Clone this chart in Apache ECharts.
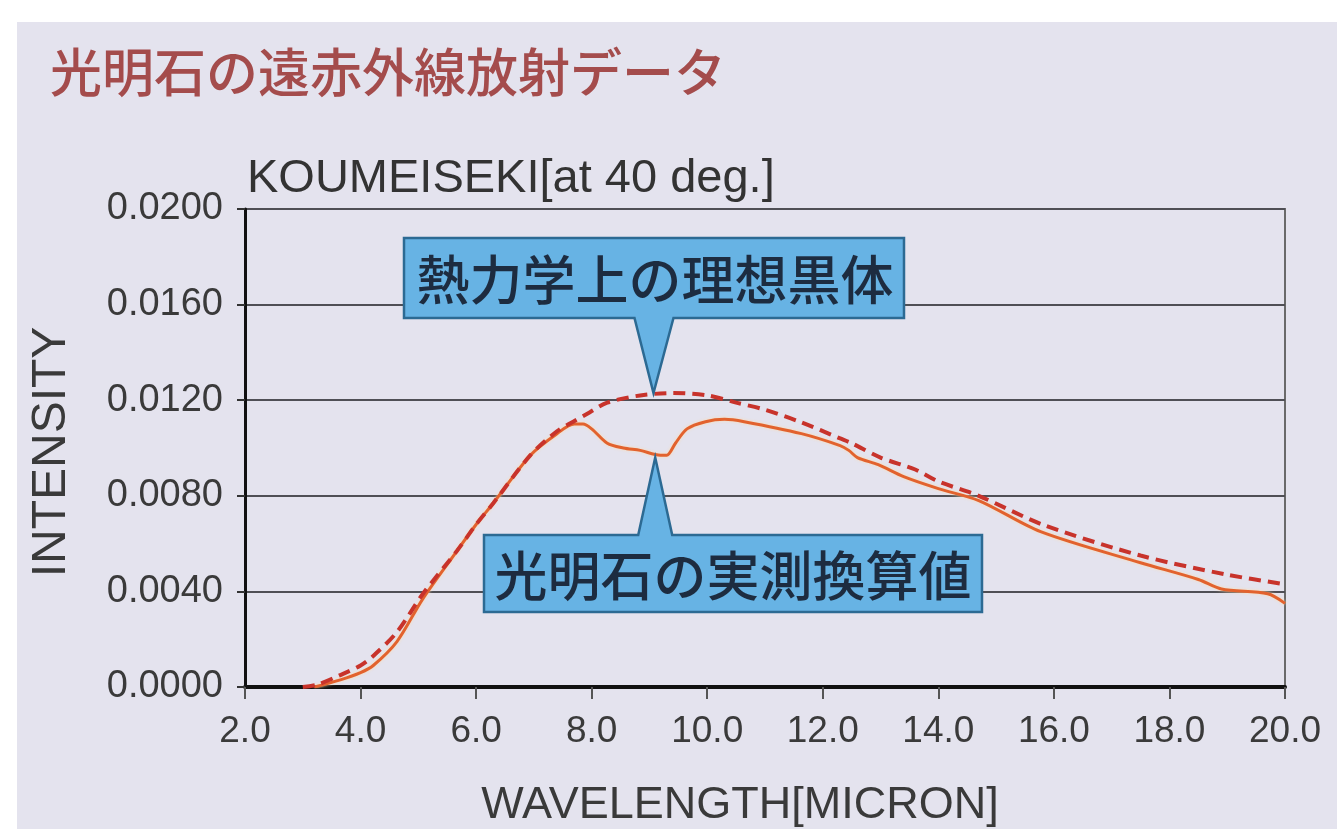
<!DOCTYPE html>
<html>
<head>
<meta charset="utf-8">
<script src="https://cdn.jsdelivr.net/npm/echarts@6/dist/echarts.min.js"></script>
<style>
html,body{margin:0;padding:0;background:#ffffff;}
#c{width:1337px;height:829px;}
</style>
</head>
<body>
<div id="c"></div>
<script>
// ---- data ----
const idealX = [3.0, 3.25, 3.65, 4.0, 4.22, 4.63, 5.08, 5.67, 6.0, 6.3, 6.94, 7.4, 7.68, 7.97, 8.27, 8.84, 9.41, 10.0, 10.5, 11.0, 11.6, 12.3, 12.5, 13.0, 13.6, 14.0, 14.7, 15.8, 17.5, 19.0, 20.0];
const idealY = [0.0000, 0.0001, 0.0005, 0.0009, 0.0013, 0.0023, 0.0039, 0.0057, 0.0068, 0.0077, 0.0097, 0.0107, 0.0111, 0.0115, 0.0119, 0.0122, 0.0123, 0.0122, 0.0119, 0.0116, 0.0111, 0.0104, 0.0102, 0.0096, 0.0091, 0.0086, 0.0080, 0.0068, 0.0055, 0.0047, 0.0043];
const measX = [3.2, 3.65, 4.0, 4.22, 4.63, 5.08, 5.67, 6.0, 6.3, 6.94, 7.4, 7.7, 7.85, 8.0, 8.27, 8.55, 8.84, 9.19, 9.3, 9.45, 9.65, 9.97, 10.3, 10.64, 11.63, 12.3, 12.45, 12.6, 12.96, 13.4, 14.0, 14.7, 15.77, 17.5, 18.5, 18.9, 19.7, 20.0];
const measY = [0.0000, 0.0003, 0.0006, 0.0009, 0.0019, 0.0037, 0.0057, 0.0068, 0.0077, 0.0097, 0.0106, 0.0110, 0.0110, 0.0108, 0.0102, 0.0100, 0.0099, 0.0097, 0.0097, 0.0102, 0.0108, 0.0111, 0.0112, 0.0111, 0.0106, 0.0101, 0.0099, 0.0096, 0.0093, 0.0088, 0.0083, 0.0078, 0.0065, 0.0052, 0.0045, 0.0041, 0.0039, 0.0035];
const xMin = 2.0, xMax = 20.0, xStep = 2.0;
const yMin = 0.0, yMax = 0.02, yStep = 0.004;
const titleText = '光明石の遠赤外線放射データ';
const subTitleText = 'KOUMEISEKI[at 40 deg.]';
const xName = 'WAVELENGTH[MICRON]';
const yName = 'INTENSITY';
const idealLabel = '熱力学上の理想黒体';
const measLabel = '光明石の実測換算値';
const idealPointer = [9.07, 0.0123];
const measPointer = [9.1, 0.0096];

const latin = '"Liberation Sans", Arial, sans-serif';
const cjk = '"Noto Sans CJK JP", sans-serif';
const bg = '#e4e3ee';

const chart = echarts.init(document.getElementById('c'), null, {renderer: 'canvas'});

const zip = (a, b) => a.map((v, i) => [v, b[i]]);

const option = {
  backgroundColor: '#ffffff',
  animation: false,
  grid: {left: 245, right: 52, top: 209, bottom: 142, show: true, borderColor: '#6a6a6a', borderWidth: 2, backgroundColor: 'transparent'},
  xAxis: {
    type: 'value', min: xMin, max: xMax, interval: xStep,
    axisLine: {show: true, onZero: false, lineStyle: {color: '#111', width: 4}},
    axisTick: {show: true, length: 12, lineStyle: {color: '#555', width: 2}},
    axisLabel: {fontSize: 37, fontFamily: latin, color: '#3a3a3a', margin: 26, formatter: v => v.toFixed(1)},
    splitLine: {show: false}
  },
  yAxis: {
    type: 'value', min: yMin, max: yMax, interval: yStep,
    axisLine: {show: true, lineStyle: {color: '#111', width: 3}},
    axisTick: {show: true, length: 8, lineStyle: {color: '#333', width: 2}},
    axisLabel: {fontSize: 38, fontFamily: latin, color: '#3a3a3a', margin: 22, formatter: v => v.toFixed(4)},
    splitLine: {show: true, lineStyle: {color: '#4f4f55', width: 2}}
  },
  series: [
    {
      type: 'line', name: measLabel, data: zip(measX, measY), smooth: 0.3, symbol: 'none', z: 3,
      lineStyle: {color: '#e2622e', width: 3, shadowColor: 'rgba(255,220,170,0.9)', shadowBlur: 3}
    },
    {
      type: 'line', name: idealLabel, data: zip(idealX, idealY), smooth: 0.3, symbol: 'none', z: 4,
      lineStyle: {color: '#c8332b', width: 4, type: [12, 7]}
    }
  ]
};
chart.setOption(option);

function calloutPath(x0, y0, x1, y1, baseL, baseR, tip, down) {
  if (down) {
    return [[x0, y0], [x1, y0], [x1, y1], [baseR, y1], tip, [baseL, y1], [x0, y1]];
  }
  return [[x0, y0], [baseL, y0], tip, [baseR, y0], [x1, y0], [x1, y1], [x0, y1]];
}

const tip1 = chart.convertToPixel({gridIndex: 0}, idealPointer);
const tip2 = chart.convertToPixel({gridIndex: 0}, measPointer);

const boxFill = '#67b3e4';
const boxStroke = '#2c6a93';

chart.setOption({
  graphic: [
    {type: 'rect', z: -10, silent: true, shape: {x: 17, y: 22, width: 1337, height: 829}, style: {fill: bg}},
    {type: 'text', left: 50, top: 46, style: {text: titleText, font: '500 52px ' + cjk, fill: '#a44c4c'}},
    {type: 'text', left: 247, top: 156, style: {text: subTitleText, font: '47px ' + latin, fill: '#333333'}},
    {type: 'text', x: 52, y: 452, rotation: Math.PI / 2, style: {text: yName, font: '48px ' + latin, fill: '#3a3a3a', textAlign: 'center', textVerticalAlign: 'middle'}},
    {type: 'text', x: 740, y: 806, style: {text: xName, font: '45px ' + latin, fill: '#3a3a3a', textAlign: 'center', textVerticalAlign: 'middle'}},
    {type: 'polygon', z: 50, shape: {points: calloutPath(404, 238, 904, 318, tip1[0] - 19, tip1[0] + 20, tip1, true)}, style: {fill: boxFill, stroke: boxStroke, lineWidth: 2.5}},
    {type: 'text', z: 51, x: 655, y: 280, style: {text: idealLabel, font: '500 53px ' + cjk, fill: '#1d2c40', textAlign: 'center', textVerticalAlign: 'middle'}},
    {type: 'polygon', z: 50, shape: {points: calloutPath(484, 535, 982, 612, tip2[0] - 17, tip2[0] + 17, tip2, false)}, style: {fill: boxFill, stroke: boxStroke, lineWidth: 2.5}},
    {type: 'text', z: 51, x: 733, y: 576, style: {text: measLabel, font: '500 53px ' + cjk, fill: '#1d2c40', textAlign: 'center', textVerticalAlign: 'middle'}}
  ]
});
</script>
</body>
</html>
